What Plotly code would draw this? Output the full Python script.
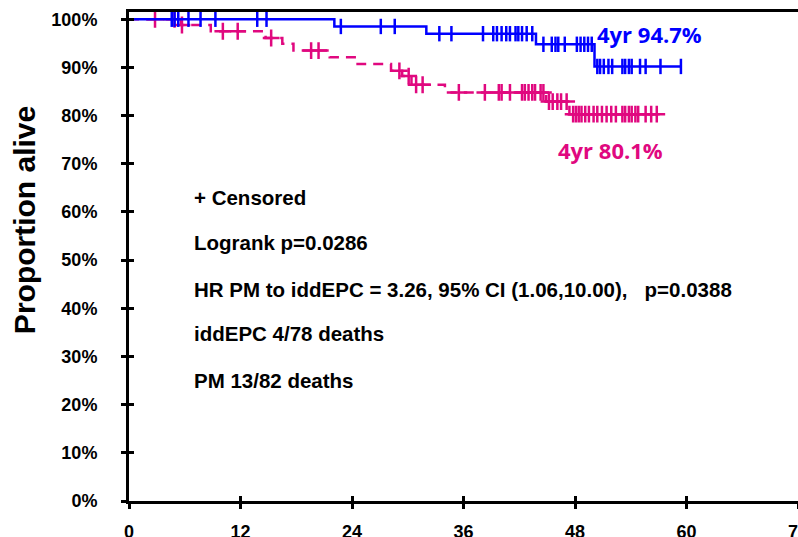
import plotly.graph_objects as go
import numpy as np

# ---------------- data ----------------
# iddEPC (blue) Kaplan-Meier steps
idd_times = [0, 22.1, 32.0, 43.8, 50.1]
idd_surv = [1.0, 0.985, 0.970, 0.948, 0.902]
idd_end = 59.4
idd_censor = [4.6, 4.9, 5.3, 6.4, 7.7, 9.3, 13.8, 14.8,
              22.8, 27.1, 28.6,
              33.4, 34.7, 38.1, 39.2, 39.6, 40.1, 40.6, 41.0, 41.6, 41.9, 42.3, 42.8, 43.4,
              44.6, 45.5, 45.9, 46.2, 46.9, 48.2, 48.6, 49.0, 49.4, 49.8,
              50.4, 50.7, 51.1, 51.6, 52.0, 53.1, 53.4, 53.8, 54.1, 55.0, 55.6, 57.2, 59.4]

# PM (magenta) Kaplan-Meier steps
pm_times = [0, 5.6, 8.8, 14.7, 16.5, 17.7, 21.6, 24.6, 28.2, 29.4, 30.4, 34.0, 44.9, 47.4]
pm_surv = [1.0, 0.988, 0.975, 0.961, 0.949, 0.935, 0.921, 0.907, 0.893, 0.882, 0.864,
           0.848, 0.829, 0.803]
pm_end = 56.8
pm_censor = [2.8, 4.9, 5.7, 10.1, 11.7, 15.3, 19.6, 20.4, 29.1, 30.1, 30.9, 31.6,
             35.5, 38.3, 39.8, 40.1, 41.0, 42.3, 42.6, 43.0, 43.4, 43.7, 44.3, 44.6,
             45.2, 45.6, 46.1, 46.5, 47.1,
             47.8, 48.1, 48.4, 48.7, 49.1, 49.5, 50.0, 50.4, 50.9, 51.4, 51.9, 52.4,
             53.1, 53.4, 53.8, 54.1, 54.5, 54.8, 55.6, 56.2, 56.8]

x_ticks = [0, 12, 24, 36, 48, 60, 72]
y_ticks = [0, 0.1, 0.2, 0.3, 0.4, 0.5, 0.6, 0.7, 0.8, 0.9, 1.0]

stats_lines = ["+ Censored",
               "Logrank p=0.0286",
               "HR PM to iddEPC = 3.26, 95% CI (1.06,10.00),&nbsp;&nbsp; p=0.0388",
               "iddEPC 4/78 deaths",
               "PM 13/82 deaths"]
idd_label = "4yr 94.7%"
pm_label = "4yr 80.1%"
y_title = "Proportion alive"

BLUE = "#0000FF"
PINK = "#E0087F"


def step_at(times, surv, t):
    idx = np.searchsorted(np.array(times), t, side="right") - 1
    return surv[max(idx, 0)]


fig = go.Figure()

# PM curve (dashed)
fig.add_trace(go.Scatter(x=pm_times + [pm_end], y=pm_surv + [pm_surv[-1]],
                         mode="lines", line=dict(color=PINK, width=2.5, shape="hv", dash="10px,7px"),
                         showlegend=False, hoverinfo="skip"))
fig.add_trace(go.Scatter(x=pm_censor, y=[step_at(pm_times, pm_surv, t) for t in pm_censor],
                         mode="markers",
                         marker=dict(symbol="cross-thin", size=12, line=dict(color=PINK, width=2.5)),
                         showlegend=False, hoverinfo="skip"))
# iddEPC curve (solid)
fig.add_trace(go.Scatter(x=idd_times + [idd_end], y=idd_surv + [idd_surv[-1]],
                         mode="lines", line=dict(color=BLUE, width=2.5, shape="hv"),
                         showlegend=False, hoverinfo="skip"))
fig.add_trace(go.Scatter(x=idd_censor, y=[step_at(idd_times, idd_surv, t) for t in idd_censor],
                         mode="markers",
                         marker=dict(symbol="line-ns", size=11, line=dict(color=BLUE, width=2.5)),
                         showlegend=False, hoverinfo="skip"))
# invisible trace to host the overlay axes (inner half of crossing ticks)
fig.add_trace(go.Scatter(x=[0], y=[0], xaxis="x2", yaxis="y2", mode="markers",
                         marker=dict(opacity=0), showlegend=False, hoverinfo="skip"))

tickfont = dict(family="Liberation Sans, Arial", size=18, color="black", weight="bold")
XR = [0, 72]
YR = [0, 1.015]

fig.update_layout(
    width=798, height=537,
    margin=dict(l=129, r=0, t=12, b=36, autoexpand=False),
    paper_bgcolor="white", plot_bgcolor="white",
    xaxis=dict(range=XR, tickvals=x_ticks, ticktext=[str(v) for v in x_ticks],
               showgrid=False, zeroline=False, showline=True, linecolor="black", linewidth=3,
               mirror=True, ticks="outside", ticklen=5, tickwidth=2.5, tickcolor="black",
               tickfont=tickfont, ticklabelstandoff=7, ticklabeloverflow="allow"),
    yaxis=dict(range=YR, tickvals=y_ticks, tickformat=".0%",
               showgrid=False, zeroline=False, showline=True, linecolor="black", linewidth=3,
               ticks="outside", ticklen=5, tickwidth=2.5, tickcolor="black",
               tickfont=tickfont, ticklabelstandoff=20),
    xaxis2=dict(range=XR, tickvals=x_ticks, overlaying="x", showticklabels=False,
                showgrid=False, zeroline=False, showline=False,
                ticks="inside", ticklen=5, tickwidth=2.5, tickcolor="black"),
    yaxis2=dict(range=YR, tickvals=y_ticks, overlaying="y", showticklabels=False,
                showgrid=False, zeroline=False, showline=False,
                ticks="inside", ticklen=5, tickwidth=2.5, tickcolor="black"),
)

ann_font = dict(family="Liberation Sans, Arial", size=20.5, color="black", weight="bold")
stat_y = [0.631, 0.536, 0.440, 0.347, 0.251]
for txt, yy in zip(stats_lines, stat_y):
    fig.add_annotation(x=6.8, y=yy, xref="x", yref="y", text=txt, showarrow=False,
                       xanchor="left", yanchor="middle", font=ann_font)

fig.add_annotation(x=50.1, y=0.970, xref="x", yref="y", text=idd_label, showarrow=False,
                   xanchor="left", yanchor="middle",
                   font=dict(family="Open Sans", size=22, color=BLUE, weight="bold"))
fig.add_annotation(x=46.0, y=0.729, xref="x", yref="y", text=pm_label, showarrow=False,
                   xanchor="left", yanchor="middle",
                   font=dict(family="Open Sans", size=22, color=PINK, weight="bold"))

# y-axis title
fig.add_annotation(x=-0.155, y=0.575, xref="paper", yref="paper", text=y_title,
                   showarrow=False, textangle=-90, xanchor="center", yanchor="middle",
                   font=dict(family="Liberation Sans, Arial", size=30, color="black", weight="bold"))

fig.write_html("out.html")
